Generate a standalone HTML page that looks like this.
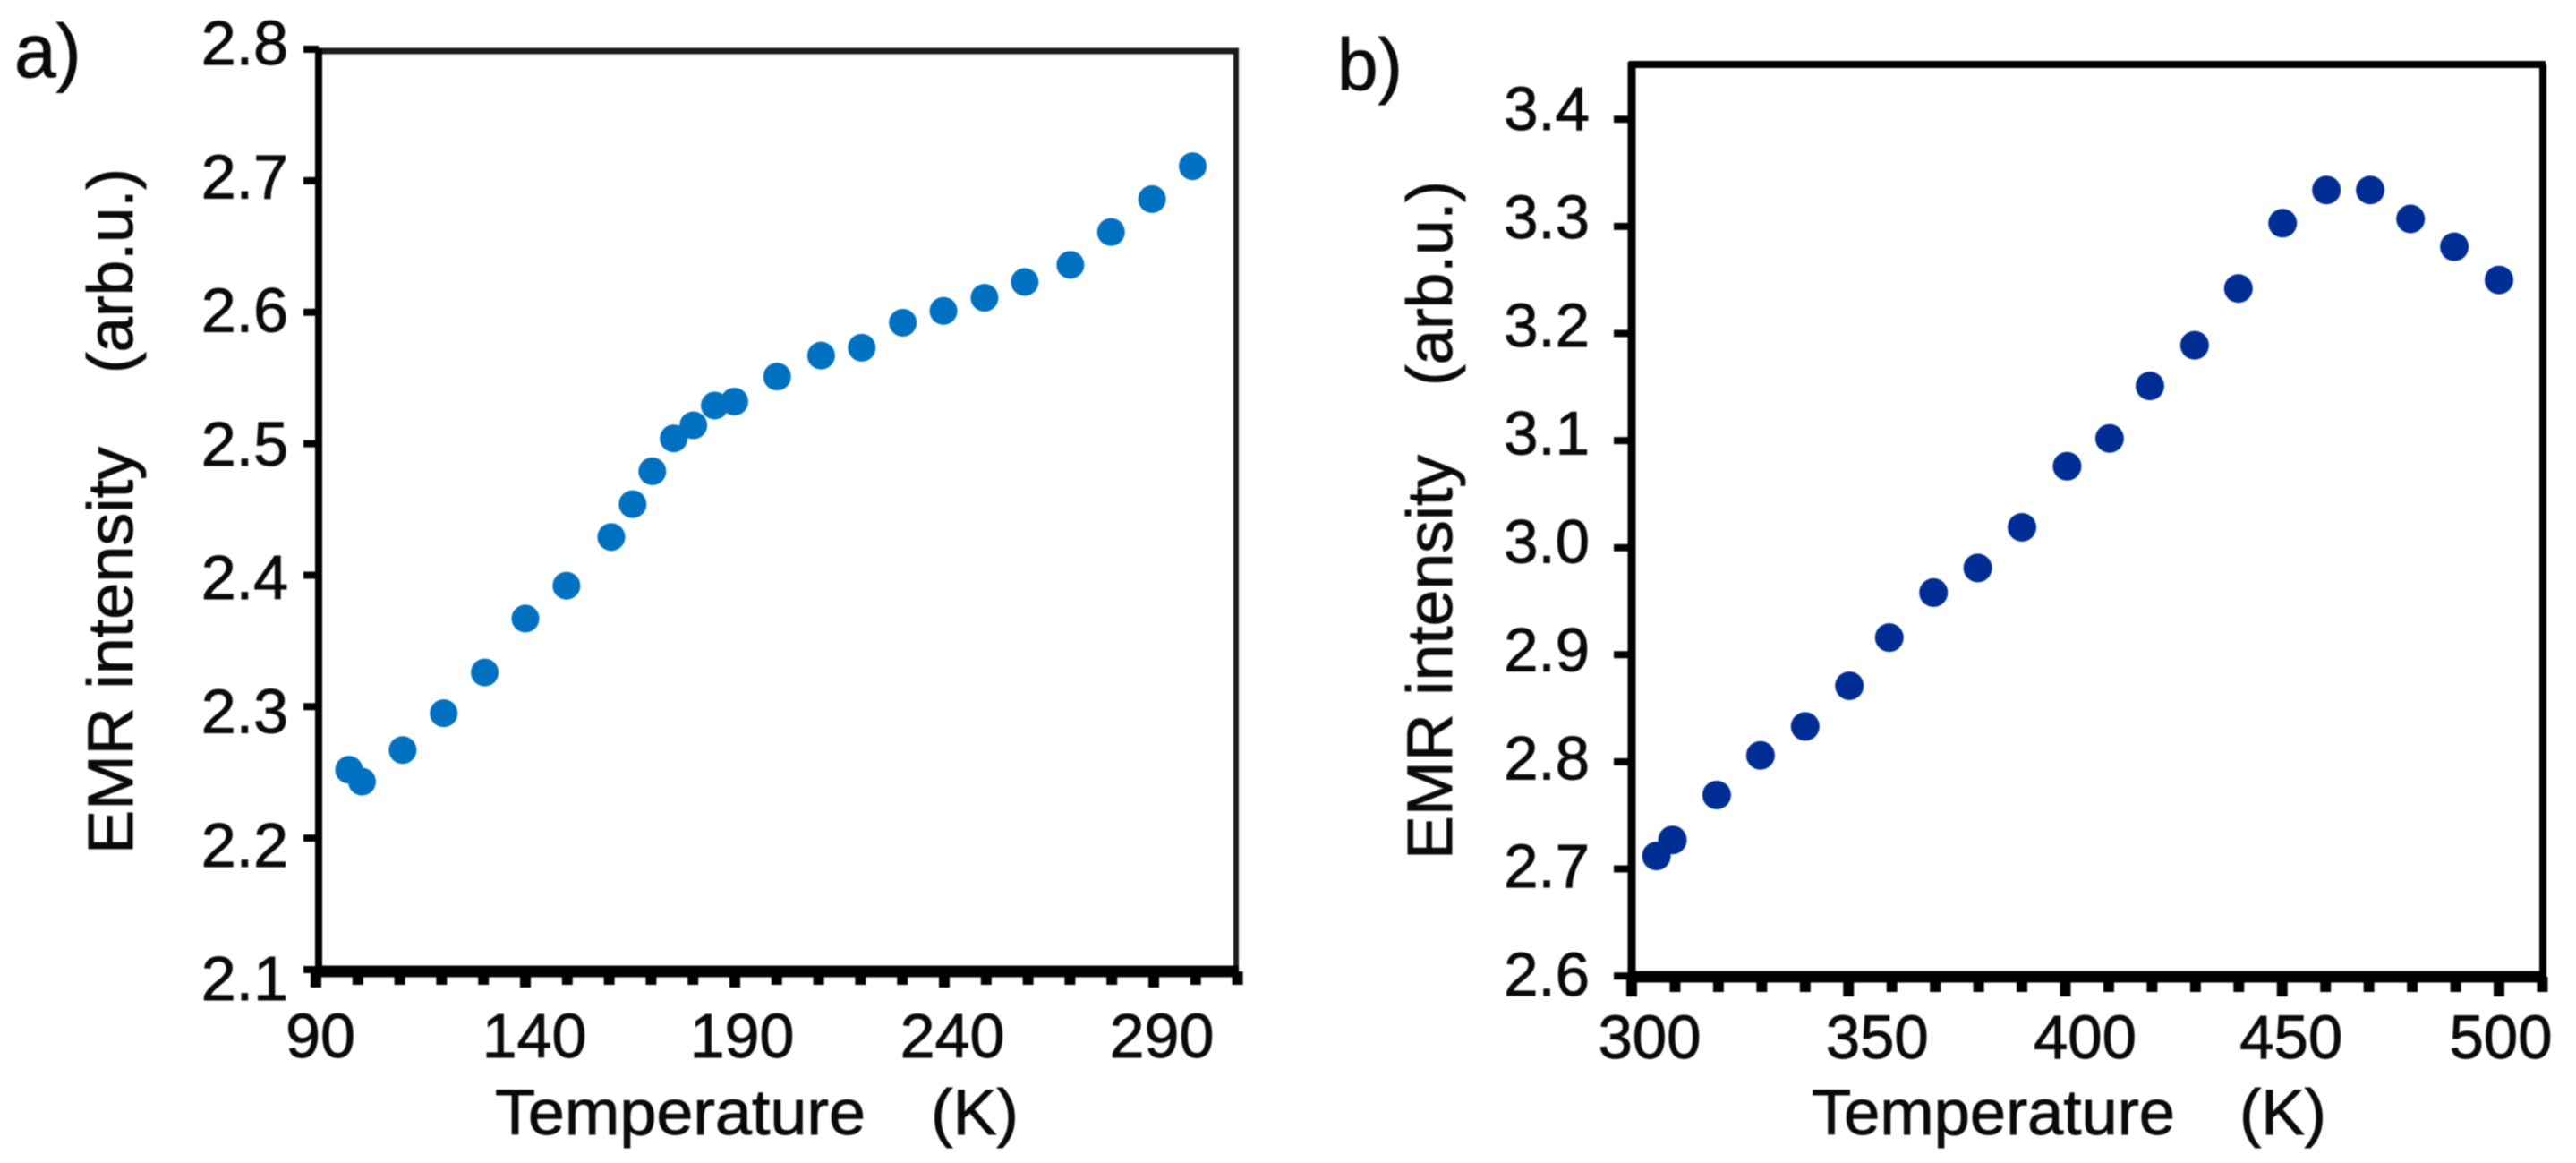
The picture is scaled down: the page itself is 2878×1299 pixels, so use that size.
<!DOCTYPE html>
<html lang="en">
<head>
<meta charset="utf-8">
<title>EMR intensity versus temperature</title>
<style>
  html, body { margin: 0; padding: 0; background: #ffffff; }
  #figure { display: block; width: 2878px; height: 1299px; filter: blur(0.7px); }
  text { font-family: "Liberation Sans", sans-serif; fill: #0a0a0a; stroke: #0a0a0a; stroke-width: 0.9px; }
</style>
</head>
<body>
<svg id="figure" xmlns="http://www.w3.org/2000/svg" width="2878" height="1299" viewBox="0 0 2878 1299">
  <rect x="0" y="0" width="2878" height="1299" fill="#ffffff"/>

  <g id="panel-a">
    <text x="16" y="86" font-size="84">a)</text>
    <text transform="translate(148 954) rotate(-90)" font-size="71"><tspan textLength="455" lengthAdjust="spacingAndGlyphs">EMR intensity</tspan></text>
    <text transform="translate(148 417) rotate(-90)" font-size="71">(arb.u.)</text>
    <text x="553" y="1267" font-size="71" textLength="414" lengthAdjust="spacingAndGlyphs">Temperature</text>
    <text x="1040" y="1267" font-size="71" textLength="98" lengthAdjust="spacingAndGlyphs">(K)</text>
  </g>

  <g id="panel-b">
    <text x="1494" y="100" font-size="82">b)</text>
    <text transform="translate(1622 960) rotate(-90)" font-size="71"><tspan textLength="452" lengthAdjust="spacingAndGlyphs">EMR intensity</tspan></text>
    <text transform="translate(1622 431) rotate(-90)" font-size="71">(arb.u.)</text>
    <text x="2024" y="1267" font-size="71" textLength="406" lengthAdjust="spacingAndGlyphs">Temperature</text>
    <text x="2502" y="1267" font-size="71" textLength="97" lengthAdjust="spacingAndGlyphs">(K)</text>
  </g>
</svg>

<script>
// Panel a data
const tempA = [97.9, 101.0, 110.7, 120.5, 130.3, 140.0, 149.8, 160.5, 165.6, 170.3, 175.4, 180.1, 185.2, 189.9, 200.1, 210.6, 220.3, 230.1, 239.8, 249.6, 259.2, 270.1, 279.8, 289.6, 299.3];
const emrA = [2.252, 2.243, 2.267, 2.295, 2.326, 2.367, 2.392, 2.429, 2.454, 2.479, 2.504, 2.514, 2.529, 2.532, 2.551, 2.567, 2.573, 2.592, 2.601, 2.611, 2.623, 2.636, 2.661, 2.686, 2.711];
const xTicksA = ["90", "140", "190", "240", "290"];
const yTicksA = ["2.1", "2.2", "2.3", "2.4", "2.5", "2.6", "2.7", "2.8"];

// Panel b data
const tempB = [305.7, 309.4, 319.6, 329.7, 340.0, 350.2, 359.4, 369.6, 379.8, 390.0, 400.4, 410.2, 419.5, 429.8, 439.9, 450.1, 460.2, 470.3, 479.6, 489.7, 500.0];
const emrB = [2.712, 2.727, 2.769, 2.806, 2.833, 2.871, 2.916, 2.958, 2.981, 3.019, 3.076, 3.102, 3.151, 3.189, 3.242, 3.303, 3.334, 3.334, 3.307, 3.281, 3.250];
const xTicksB = ["300", "350", "400", "450", "500"];
const yTicksB = ["2.6", "2.7", "2.8", "2.9", "3.0", "3.1", "3.2", "3.3", "3.4"];

const SVG_NS = "http://www.w3.org/2000/svg";

function makeScale(d0, r0, slope) {
  return function (v) { return r0 + (v - d0) * slope; };
}

function make(parent, tag, attrs) {
  const el = document.createElementNS(SVG_NS, tag);
  Object.keys(attrs).forEach(function (k) { el.setAttribute(k, attrs[k]); });
  parent.appendChild(el);
  return el;
}

function drawPanel(cfg) {
  const g = document.getElementById(cfg.id);

  // frame
  const frameLines = [
    ["top", cfg.left - 3, cfg.top, cfg.right + 3, cfg.top, cfg.topW, cfg.frameColor],
    ["right", cfg.right, cfg.top, cfg.right, cfg.bottom, cfg.rightW, cfg.frameColor],
    ["left", cfg.left, cfg.top - 3, cfg.left, cfg.bottom + 6, cfg.leftW, "#000000"],
    ["bottom", cfg.left, cfg.bottom, cfg.right + 3, cfg.bottom, 13, "#000000"]
  ];
  frameLines.forEach(function (f) {
    const line = make(g, "line", { x1: f[1], y1: f[2], x2: f[3], y2: f[4], stroke: f[6], "stroke-width": f[5] });
    
    
  });

  // x ticks, every 10 K
  for (let v = cfg.xMin; v <= cfg.xMax; v += 10) {
    const major = (v - cfg.xMin) % 50 === 0 && v <= cfg.xLastMajor;
    const tick = make(g, "line", {
      x1: cfg.x(v), x2: cfg.x(v),
      y1: cfg.bottom,
      y2: cfg.bottom + (major ? cfg.majorLen : cfg.minorLen),
      stroke: "#000000", "stroke-width": 12
    });
    
    
  }

  // x tick labels
  cfg.xLabels.forEach(function (label) {
    const v = Number(label);
    const t = make(g, "text", {
      x: cfg.x(v) + cfg.xNudge[label], y: cfg.xLabelBase,
      "font-size": cfg.tickFont, "text-anchor": "middle"
    });
    t.textContent = label;
    
    
  });

  // y ticks and labels
  cfg.yLabels.forEach(function (label) {
    const v = Number(label);
    const tick = make(g, "line", {
      x1: cfg.left - cfg.yTickLen, x2: cfg.left,
      y1: cfg.y(v), y2: cfg.y(v),
      stroke: "#000000", "stroke-width": 8
    });
    
    

    const t = make(g, "text", {
      x: cfg.yLabelRight, y: cfg.yLabelBase(v),
      "font-size": cfg.tickFont, "text-anchor": "end"
    });
    t.textContent = label;
    
    
  });

  // data points
  cfg.xs.forEach(function (xv, i) {
    const dot = make(g, "circle", { cx: cfg.x(xv), cy: cfg.y(cfg.ys[i]), r: cfg.r, fill: cfg.color });
    
    
  });
}

drawPanel({
  id: "panel-a",
  left: 356, right: 1381, top: 57, bottom: 1085,
  topW: 7, rightW: 6, leftW: 8,
  frameColor: "#1c1c1c",
  xMin: 90, xMax: 310, xLastMajor: 290,
  majorLen: 18, minorLen: 15,
  x: makeScale(90, 353, 4.68),
  y: makeScale(2.8, 55, -1468.6),
  yLabelBase: makeScale(2.8, 72, -1493),
  xLabels: xTicksA, yLabels: yTicksA,
  xNudge: { "90": 5, "140": 10, "190": 8, "240": 9, "290": 9 },
  xLabelBase: 1181,
  yTickLen: 17, yLabelRight: 322,
  tickFont: 70,
  xs: tempA, ys: emrA,
  r: 15.5, color: "#0070c0"
});

drawPanel({
  id: "panel-b",
  left: 1823, right: 2841, top: 72, bottom: 1091,
  topW: 8, rightW: 8, leftW: 9,
  frameColor: "#000000",
  xMin: 300, xMax: 510, xLastMajor: 500,
  majorLen: 22, minorLen: 17,
  x: makeScale(300, 1823, 4.845),
  y: makeScale(3.4, 133.3, -1196),
  yLabelBase: makeScale(3.4, 145, -1208.75),
  xLabels: xTicksB, yLabels: yTicksB,
  xNudge: { "300": 20, "350": 32, "400": 22, "450": 10, "500": 2 },
  xLabelBase: 1182,
  yTickLen: 20, yLabelRight: 1776,
  tickFont: 69,
  xs: tempB, ys: emrB,
  r: 16, color: "#002d93"
});
</script>
</body>
</html>
